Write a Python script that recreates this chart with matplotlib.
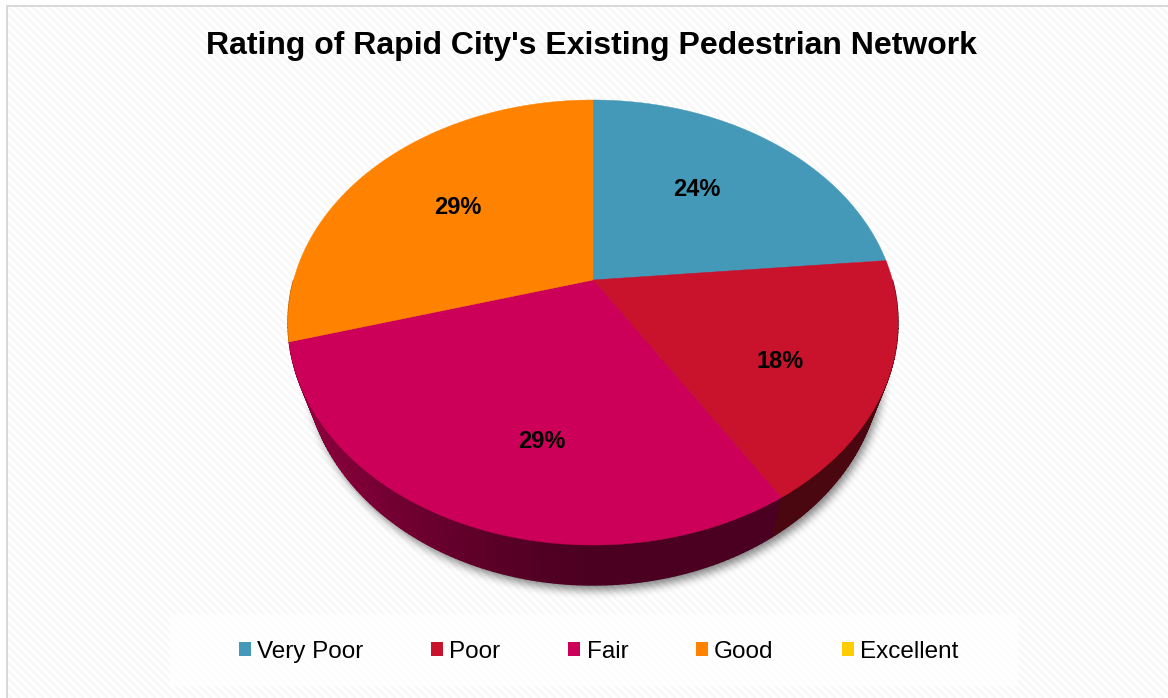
import numpy as np
import matplotlib
matplotlib.use("Agg")
import matplotlib.pyplot as plt
from matplotlib.patches import Polygon, Rectangle

plt.rcParams['font.family'] = ['Liberation Sans', 'DejaVu Sans']

# Survey answers (counts behind the percentages)
categories = ["Very Poor", "Poor", "Fair", "Good", "Excellent"]
counts = [4, 3, 5, 5, 0]
colors = ["#4599B8", "#C9122C", "#CC0058", "#FF8300", "#FFCC00"]
title = "Rating of Rapid City's Existing Pedestrian Network"

# Pixel positions of the data labels
label_pos = [(697, 189), (780, 362), (542, 442), (458, 208)]

W, H = 1168, 698

# Pie geometry in pixels (tilted disc seen in perspective)
cx, cy = 593, 280
persp = 0.191
a_top, c_top = 299.4, 214.4
ell_cy, low_cy, low_scale = 322, 362, 288 / 305


def rim(theta):
    # theta in radians, clockwise from 12 o'clock
    x, y = np.sin(theta), np.cos(theta)
    w = 1 + persp * y
    return cx + a_top * x / w, cy - c_top * y / w


def low_rim(theta):
    px, py = rim(theta)
    return cx + (px - cx) * low_scale, low_cy + (py - ell_cy)


def box_blur(img, n):
    kernel = np.ones(n) / n
    img = np.apply_along_axis(lambda r: np.convolve(r, kernel, mode="same"), 0, img)
    img = np.apply_along_axis(lambda r: np.convolve(r, kernel, mode="same"), 1, img)
    return img


fig = plt.figure(figsize=(W / 100, H / 100), dpi=100, facecolor="white")
ax = fig.add_axes([0, 0, 1, 1])
ax.set_xlim(0, W)
ax.set_ylim(H, 0)
ax.axis("off")

# Striped chart background
yy, xx = np.mgrid[0:H, 0:W]
stripes = np.where((xx - yy) % 8 < 4, 0.972, 1.0)
stripes[:5, :] = 1.0
stripes[:, :6] = 1.0
ax.imshow(stripes, cmap="gray", vmin=0, vmax=1, extent=(0, W, H, 0), zorder=0,
          interpolation="nearest", aspect="auto")
ax.add_patch(Rectangle((6, 5), W - 6, 2, fc="#D9D9D9", ec="none", zorder=1))
ax.add_patch(Rectangle((6, 5), 2, H - 5, fc="#D9D9D9", ec="none", zorder=1))
ax.add_patch(Rectangle((170, 614), 848, 72, fc="white", alpha=0.85, ec="none", zorder=1))

# Soft shadow under the pie
px = (xx + 0.5 - cx - 3)
mask = ((px / 288) ** 2 + ((yy + 0.5 - low_cy - 5) / 223) ** 2 <= 1).astype(float)
mask = box_blur(box_blur(box_blur(mask, 9), 9), 9)
shadow = np.zeros((H, W, 4))
shadow[..., 3] = mask * 0.5
ax.imshow(shadow, extent=(0, W, H, 0), zorder=2, aspect="auto")

shares = np.array(counts) / sum(counts)
edges = np.concatenate([[0], np.cumsum(shares)]) * 2 * np.pi

# Side wall, shaded strip by strip
for i, col in enumerate(colors):
    rgb = np.array(matplotlib.colors.to_rgb(col))
    lo = max(edges[i], np.pi / 2)
    hi = min(edges[i + 1], 3 * np.pi / 2)
    if hi <= lo:
        continue
    steps = np.linspace(lo, hi, int((hi - lo) * 60) + 2)
    for t0, t1 in zip(steps[:-1], steps[1:]):
        x0, y0 = rim(t0)
        x1, y1 = rim(t1)
        lx0, ly0 = low_rim(t0)
        lx1, ly1 = low_rim(t1)
        shade = 0.37 + 0.33 * max(0, (cx - x0) / 305) ** 1.3
        c = rgb * shade
        ax.add_patch(Polygon([(x0, y0), (x1, y1), (lx1, ly1), (lx0, ly0)],
                             fc=c, ec=c, lw=1.0, zorder=3))

# Top face of the pie
for i, col in enumerate(colors):
    if shares[i] == 0:
        continue
    th = np.linspace(edges[i], edges[i + 1], 200)
    rx, ry = rim(th)
    pts = [(cx, cy)] + list(zip(rx, ry))
    ax.add_patch(Polygon(pts, fc=col, ec=col, lw=0.3, zorder=4))

# Data labels
for share, (lx, ly) in zip(shares[:4], label_pos):
    ax.text(lx, ly, f"{share * 100:.0f}%", ha="center", va="center",
            fontsize=17, fontweight="bold", color="black", zorder=5)

ax.text(591, 46, title, ha="center", va="center", fontsize=23,
        fontweight="bold", color="black", zorder=5)

# Legend
handles = [Rectangle((0, 0), 1, 1, fc=c, ec="none") for c in colors]
ax.legend(handles, categories, ncol=5, loc="center", bbox_to_anchor=(598.5, 652),
          bbox_transform=ax.transData, frameon=False, fontsize=17.5,
          handlelength=0.5, handleheight=0.5, handletextpad=0.25,
          columnspacing=2.79, borderpad=0, labelcolor="black").set_zorder(6)

fig.savefig("out.png", dpi=100)
